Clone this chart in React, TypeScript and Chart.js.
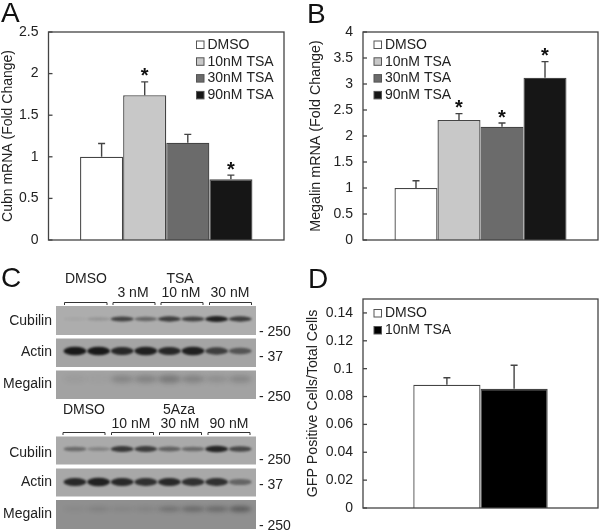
import React, { useEffect, useRef } from "react";
import { Chart, registerables } from "chart.js";

Chart.register(...registerables);

// ---- data ----
const tsaLabels = ["DMSO", "10nM TSA", "30nM TSA", "90nM TSA"];
const cubnValues = [1.0, 1.74, 1.17, 0.73];
const cubnErrorTops = [1.16, 1.9, 1.27, 0.78];
const cubnStars = [false, true, false, true];
const cubnTicks = [0, 0.5, 1, 1.5, 2, 2.5];

const megalinValues = [1.0, 2.31, 2.18, 3.12];
const megalinErrorTops = [1.14, 2.43, 2.25, 3.43];
const megalinStars = [false, true, true, true];
const megalinTicks = [0, 0.5, 1, 1.5, 2, 2.5, 3, 3.5, 4];

const gfpLabels = ["DMSO", "10nM TSA"];
const gfpValues = [0.0885, 0.0855];
const gfpErrorTops = [0.0935, 0.1025];
const gfpStars = [false, false];
const gfpTicks = [0, 0.02, 0.04, 0.06, 0.08, 0.1, 0.12, 0.14];

const lanes = [1, 2, 3, 4, 5, 6, 7, 8];
const tsaCubilinBands = [0.05, 0.15, 0.68, 0.45, 0.72, 0.68, 0.9, 0.72];
const tsaActinBands = [0.95, 0.95, 0.85, 0.9, 0.85, 0.9, 0.7, 0.55];
const tsaMegalinBands = [0.05, 0.03, 0.2, 0.22, 0.28, 0.22, 0.13, 0.18];
const azaCubilinBands = [0.42, 0.25, 0.75, 0.72, 0.48, 0.42, 0.88, 0.65];
const azaActinBands = [0.85, 0.9, 0.85, 0.8, 0.85, 0.8, 0.8, 0.45];
const azaMegalinBands = [0.05, 0.12, 0.08, 0.1, 0.25, 0.3, 0.3, 0.4];

// ---- styles ----
const FONT = '"Liberation Sans", Arial, sans-serif';
const INK = "#222222";
const LINE = "#444444";
const tsaFills = ["#ffffff", "#c8c8c8", "#6b6b6b", "#161616"];
const gfpFills = ["#ffffff", "#000000"];

const put = (ctx: any, text: string, x: number, y: number, size: number, align = "left", base = "middle", color = INK) => {
  ctx.save();
  ctx.font = `${size}px ${FONT}`;
  ctx.fillStyle = color;
  ctx.textAlign = align;
  ctx.textBaseline = base;
  ctx.fillText(text, x, y);
  ctx.restore();
};

function barPanel(canvas: HTMLCanvasElement, cfg: any) {
  const decorate = {
    id: "decorate",
    afterDatasetsDraw(chart: any) {
      const { ctx, chartArea: a, scales } = chart;
      const y = scales.y;
      ctx.save();
      ctx.strokeStyle = LINE;
      ctx.lineWidth = 1.3;
      ctx.strokeRect(a.left, a.top, a.right - a.left, a.bottom - a.top);
      cfg.ticks.forEach((v: number) => {
        const py = y.getPixelForValue(v);
        ctx.beginPath();
        ctx.moveTo(a.left, py);
        ctx.lineTo(a.left + 4, py);
        ctx.stroke();
      });
      cfg.values.forEach((_: number, i: number) => {
        const el = chart.getDatasetMeta(i).data[0];
        const top = y.getPixelForValue(cfg.errorTops[i]);
        ctx.strokeStyle = LINE;
        ctx.lineWidth = 1.4;
        ctx.beginPath();
        ctx.moveTo(el.x, el.y);
        ctx.lineTo(el.x, top);
        ctx.moveTo(el.x - 3.5, top);
        ctx.lineTo(el.x + 3.5, top);
        ctx.stroke();
        if (cfg.stars[i]) {
          ctx.font = `bold 20px ${FONT}`;
          ctx.fillStyle = "#111";
          ctx.textAlign = "center";
          ctx.textBaseline = "alphabetic";
          ctx.fillText("*", el.x, top + 0.5);
        }
      });
      cfg.labels.forEach((label: string, i: number) => {
        const ly = cfg.legendY + i * cfg.legendStep;
        ctx.fillStyle = cfg.fills[i];
        ctx.strokeStyle = "#555";
        ctx.lineWidth = 1;
        ctx.fillRect(cfg.legendX, ly - 3.5, 7.5, 7.5);
        ctx.strokeRect(cfg.legendX, ly - 3.5, 7.5, 7.5);
        put(ctx, label, cfg.legendX + 11, ly + 0.5, 14);
      });
      put(ctx, cfg.letter, cfg.letterX, cfg.letterY, 28, "left", "alphabetic", "#111");
      ctx.restore();
    },
  };
  return new Chart(canvas, {
    type: "bar",
    data: {
      labels: [""],
      datasets: cfg.values.map((v: number, i: number) => ({
        label: cfg.labels[i],
        data: [v],
        backgroundColor: cfg.fills[i],
        borderColor: LINE,
        borderWidth: 1.3,
        categoryPercentage: cfg.catPct,
        barPercentage: 1,
      })),
    },
    options: {
      responsive: false,
      animation: false,
      devicePixelRatio: 1,
      layout: { padding: cfg.padding },
      plugins: { legend: { display: false }, title: { display: false }, tooltip: { enabled: false } },
      scales: {
        x: { display: false },
        y: {
          min: 0,
          max: cfg.max,
          afterFit: (s: any) => {
            s.width = cfg.axisWidth;
          },
          afterBuildTicks: (s: any) => {
            s.ticks = cfg.ticks.map((value: number) => ({ value }));
          },
          grid: { display: false },
          border: { display: false },
          ticks: {
            padding: 2,
            autoSkip: false,
            color: INK,
            font: { family: FONT, size: 14 },
            callback: (v: any) => String(v),
          },
          title: {
            display: true,
            text: cfg.yTitle,
            color: INK,
            padding: { top: cfg.titlePad, bottom: 0 },
            font: { family: FONT, size: cfg.titleSize },
          },
        },
      },
    },
    plugins: [decorate],
  } as any);
}

function blotPanel(canvas: HTMLCanvasElement) {
  // strip geometry in panel coordinates
  const rows = [
    { name: "Cubilin", top: 46, bottom: 75, bandY: 59, h: 5, blur: 1, bg: "#adadad", labelY: 61, mw: "- 250", mwY: 72, data: tsaCubilinBands },
    { name: "Actin", top: 78.5, bottom: 107, bandY: 91, h: 7, blur: 1, bg: "#a4a4a4", labelY: 92, mw: "- 37", mwY: 97, data: tsaActinBands },
    { name: "Megalin", top: 110.5, bottom: 139, bandY: 119, h: 11, blur: 2.5, bg: "#a2a2a2", labelY: 124, mw: "- 250", mwY: 137, data: tsaMegalinBands },
    { name: "Cubilin", top: 176.5, bottom: 204.5, bandY: 189, h: 5.5, blur: 1, bg: "#aaaaaa", labelY: 193, mw: "- 250", mwY: 200, data: azaCubilinBands },
    { name: "Actin", top: 208.5, bottom: 236.5, bandY: 222, h: 7, blur: 1, bg: "#a8a8a8", labelY: 222, mw: "- 37", mwY: 225, data: azaActinBands },
    { name: "Megalin", top: 240, bottom: 269, bandY: 249, h: 7, blur: 2, bg: "#8f8f8f", labelY: 254, mw: "- 250", mwY: 266, data: azaMegalinBands },
  ];
  const brackets = [
    { y: 42, spans: [[64, 106.5], [112.5, 154.5], [160.5, 202.5], [209, 251]] },
    { y: 172, spans: [[62.5, 104.5], [111, 153], [159, 201], [207.5, 249.5]] },
  ];
  const texts = [
    ["DMSO", 86, 19], ["TSA", 180, 19], ["3 nM", 133, 33], ["10 nM", 181, 33], ["30 nM", 230, 33],
    ["DMSO", 84, 150], ["5Aza", 179, 150], ["10 nM", 131, 164], ["30 nM", 180, 164], ["90 nM", 229, 164],
  ];
  const blots = {
    id: "blots",
    afterDatasetsDraw(chart: any) {
      const { ctx, scales } = chart;
      const { y } = scales;
      ctx.save();
      rows.forEach((r, ri) => {
        const t = y.getPixelForValue(r.top);
        const b = y.getPixelForValue(r.bottom);
        ctx.fillStyle = r.bg;
        ctx.fillRect(56, t, 200, b - t);
        ctx.save();
        ctx.beginPath();
        ctx.rect(56, t, 200, b - t);
        ctx.clip();
        ctx.filter = `blur(${r.blur}px)`;
        chart.getDatasetMeta(ri).data.forEach((pt: any, i: number) => {
          const v = r.data[i];
          ctx.fillStyle = `rgba(18,18,18,${Math.min(1, v)})`;
          ctx.beginPath();
          ctx.ellipse(pt.x, pt.y, 11.5, (r.h / 2) * (0.55 + v * 0.7), 0, 0, Math.PI * 2);
          ctx.fill();
        });
        ctx.restore();
        put(ctx, r.name, 52, r.labelY, 14, "right");
        put(ctx, r.mw, 259, r.mwY, 14);
      });
      ctx.strokeStyle = "#333";
      ctx.lineWidth = 1;
      brackets.forEach((g) => {
        g.spans.forEach(([a, c]) => {
          ctx.beginPath();
          ctx.moveTo(a + 0.5, g.y + 3);
          ctx.lineTo(a + 0.5, g.y + 0.5);
          ctx.lineTo(c + 0.5, g.y + 0.5);
          ctx.lineTo(c + 0.5, g.y + 3);
          ctx.stroke();
        });
      });
      texts.forEach(([s, tx, ty]) => put(ctx, s as string, tx as number, ty as number, 14, "center"));
      put(ctx, "C", 1, 27, 28, "left", "alphabetic", "#111");
      ctx.restore();
    },
  };
  return new Chart(canvas, {
    type: "scatter",
    data: {
      datasets: rows.map((r) => ({
        label: `${r.name}`,
        data: lanes.map((l) => ({ x: l, y: r.bandY })),
        pointRadius: 0,
        showLine: false,
      })),
    },
    options: {
      responsive: false,
      animation: false,
      devicePixelRatio: 1,
      layout: { padding: 0 },
      plugins: { legend: { display: false }, tooltip: { enabled: false } },
      scales: {
        // 8 lanes centred 23.6px apart, lane 1 at x=75
        x: { display: false, min: 1 - 75 / 23.6, max: 1 + (300 - 75) / 23.6 },
        y: { display: false, reverse: true, min: 0, max: 271 },
      },
    },
    plugins: [blots],
  } as any);
}

const boxStyle = (left: number, top: number): React.CSSProperties => ({ position: "absolute", left, top, display: "block" });

export default function App() {
  const a = useRef<HTMLCanvasElement>(null);
  const b = useRef<HTMLCanvasElement>(null);
  const c = useRef<HTMLCanvasElement>(null);
  const d = useRef<HTMLCanvasElement>(null);

  useEffect(() => {
    const charts = [
      barPanel(a.current!, {
        letter: "A", letterX: 1, letterY: 22,
        labels: tsaLabels, values: cubnValues, errorTops: cubnErrorTops, stars: cubnStars, ticks: cubnTicks,
        fills: tsaFills, max: 2.5, catPct: 0.732, yTitle: "Cubn mRNA (Fold Change)", titlePad: 0, titleSize: 14,
        axisWidth: 48.5, padding: { left: 0, right: 16, top: 32, bottom: 20 },
        legendX: 196.5, legendY: 44.5, legendStep: 16.8,
      }),
      barPanel(b.current!, {
        letter: "B", letterX: 7, letterY: 23,
        labels: tsaLabels, values: megalinValues, errorTops: megalinErrorTops, stars: megalinStars, ticks: megalinTicks,
        fills: tsaFills, max: 4, catPct: 0.732, yTitle: "Megalin mRNA (Fold Change)", titlePad: 7, titleSize: 14.3,
        axisWidth: 63, padding: { left: 0, right: 2, top: 32, bottom: 20 },
        legendX: 74, legendY: 44.5, legendStep: 16.8,
      }),
      blotPanel(c.current!),
      barPanel(d.current!, {
        letter: "D", letterX: 8, letterY: 28,
        labels: gfpLabels, values: gfpValues, errorTops: gfpErrorTops, stars: gfpStars, ticks: gfpTicks,
        fills: gfpFills, max: 0.15, catPct: 0.572, yTitle: "GFP Positive Cells/Total Cells", titlePad: 5, titleSize: 14.2,
        axisWidth: 63, padding: { left: 0, right: 2, top: 39, bottom: 23 },
        legendX: 74, legendY: 53, legendStep: 17,
      }),
    ];
    return () => charts.forEach((ch) => ch.destroy());
  }, []);

  return (
    <div style={{ position: "absolute", left: 0, top: 0, width: 600, height: 531, background: "#fff", overflow: "hidden", filter: "blur(0.35px)" }}>
      <canvas ref={a} width={300} height={260} style={boxStyle(0, 0)} />
      <canvas ref={b} width={300} height={260} style={boxStyle(300, 0)} />
      <canvas ref={c} width={300} height={271} style={boxStyle(0, 260)} />
      <canvas ref={d} width={300} height={271} style={boxStyle(300, 260)} />
    </div>
  );
}
